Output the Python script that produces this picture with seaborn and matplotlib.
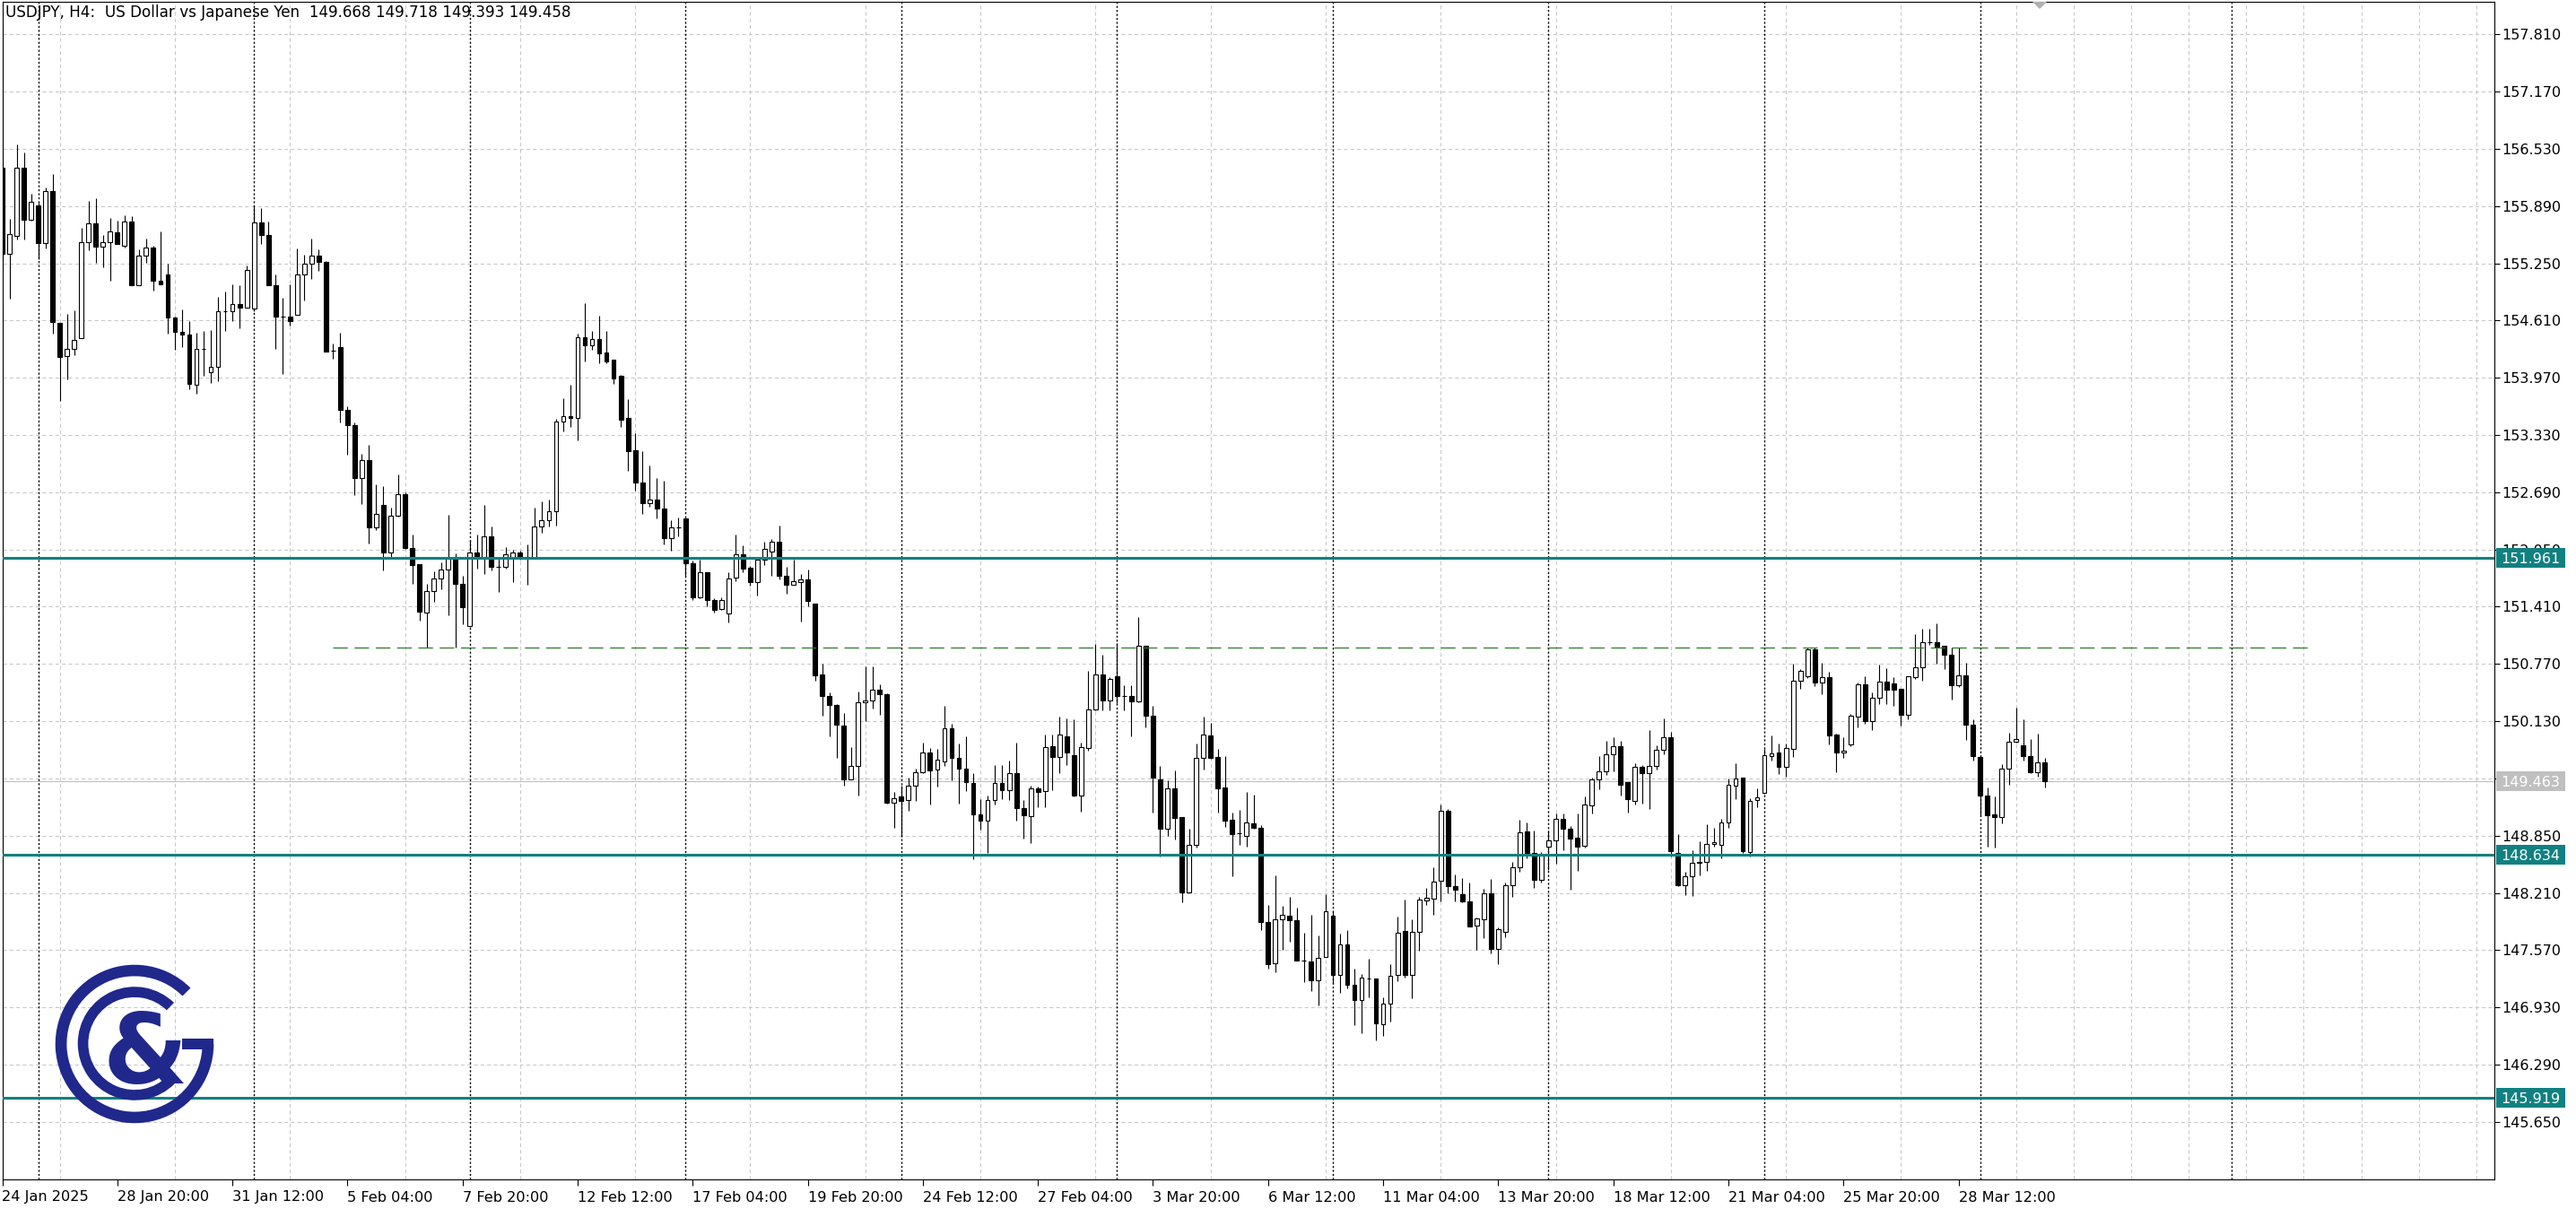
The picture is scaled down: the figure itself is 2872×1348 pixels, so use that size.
import numpy as np
import pandas as pd
import matplotlib
matplotlib.use("Agg")
import matplotlib.pyplot as plt
import seaborn as sns
from matplotlib.patches import Wedge, Rectangle, Polygon
from matplotlib.transforms import IdentityTransform

# ---------------- data (USDJPY H4) ----------------
opens = [156.323, 155.353, 155.560, 156.316, 155.741, 155.901, 155.480, 156.055, 154.583, 154.209,
         154.289, 154.416, 155.483, 155.697, 155.440, 155.483, 155.597, 155.446, 155.714, 155.008,
         155.333, 155.423, 155.052, 155.125, 154.640, 154.483, 154.450, 153.891, 154.289, 154.028,
         154.088, 154.711, 154.711, 154.791, 154.757, 154.741, 155.704, 155.570, 155.002, 154.650,
         154.650, 154.676, 155.121, 155.251, 155.338, 155.268, 154.275, 154.315, 153.613, 153.439,
         152.844, 153.045, 152.293, 152.553, 152.018, 152.426, 152.664, 152.069, 151.885, 151.343,
         151.584, 151.724, 151.825, 151.951, 151.661, 151.189, 152.012, 151.968, 152.192, 151.858,
         151.858, 151.945, 152.018, 151.965, 151.942, 152.303, 152.376, 152.480, 153.483, 153.540,
         153.516, 154.423, 154.338, 154.408, 154.252, 154.171, 153.988, 153.521, 153.160, 152.802,
         152.569, 152.608, 152.510, 152.172, 152.297, 152.394, 151.900, 151.519, 151.799, 151.480,
         151.383, 151.336, 151.733, 151.997, 151.842, 151.686, 151.935, 152.024, 152.133, 151.752,
         151.655, 151.686, 151.713, 151.449, 150.652, 150.411, 150.314, 150.080, 149.478, 149.633,
         150.341, 150.360, 150.477, 150.433, 149.217, 149.287, 149.253, 149.413, 149.563, 149.777,
         149.593, 149.680, 150.053, 149.720, 149.603, 149.437, 149.087, 149.020, 149.247, 149.443,
         149.360, 149.547, 149.153, 149.063, 149.377, 149.353, 149.853, 149.727, 149.963, 149.753,
         149.303, 149.830, 150.263, 150.653, 150.363, 150.630, 150.413, 150.413, 150.353, 150.970,
         150.187, 149.482, 148.930, 149.382, 149.054, 148.211, 148.747, 149.723, 149.974, 149.727,
         149.392, 149.031, 148.874, 148.847, 148.987, 148.940, 147.884, 147.419, 147.917, 147.954,
         147.904, 147.449, 147.442, 147.232, 147.492, 147.954, 147.292, 147.633, 147.181, 147.014,
         147.252, 147.252, 146.740, 146.967, 147.292, 147.783, 147.292, 147.777, 148.128, 148.148,
         148.345, 149.132, 148.286, 148.196, 148.118, 147.843, 147.910, 148.206, 147.582, 147.776,
         148.296, 148.498, 148.894, 148.655, 148.353, 148.726, 148.800, 149.041, 148.927, 148.823,
         148.732, 149.186, 149.477, 149.565, 149.756, 149.847, 149.444, 149.243, 149.615, 149.545,
         149.632, 149.806, 149.947, 148.655, 148.296, 148.397, 148.555, 148.555, 148.756, 148.749,
         148.994, 149.413, 149.497, 148.670, 149.247, 149.330, 149.743, 149.777, 149.620, 149.820,
         150.580, 150.630, 150.937, 150.560, 150.627, 149.977, 149.780, 149.870, 150.177, 150.547,
         150.130, 150.393, 150.577, 150.553, 150.487, 150.203, 150.627, 150.737, 151.013, 151.013,
         150.970, 150.877, 150.537, 150.643, 150.093, 149.727, 149.303, 149.087, 149.053, 149.603,
         149.903, 149.863, 149.737, 149.560, 149.668]
highs = [156.420, 155.744, 156.580, 156.490, 156.028, 155.931, 156.099, 156.249, 154.583, 154.684,
         154.724, 155.647, 155.945, 155.978, 155.567, 155.754, 155.731, 155.788, 155.778, 155.410,
         155.527, 155.443, 155.610, 155.246, 154.650, 154.731, 154.604, 154.476, 154.493, 154.503,
         154.874, 154.935, 155.018, 155.008, 155.229, 155.888, 155.864, 155.721, 155.125, 154.861,
         155.012, 155.412, 155.345, 155.529, 155.402, 155.275, 154.352, 154.469, 153.647, 153.466,
         153.122, 153.222, 152.777, 152.761, 152.520, 152.894, 152.687, 152.219, 151.885, 151.661,
         151.801, 151.911, 152.435, 152.002, 151.751, 152.152, 152.219, 152.547, 152.303, 151.968,
         152.079, 152.045, 152.035, 152.109, 152.520, 152.593, 152.610, 153.506, 153.740, 153.891,
         154.466, 154.804, 154.493, 154.661, 154.493, 154.171, 154.007, 153.727, 153.354, 153.152,
         152.994, 152.849, 152.822, 152.374, 152.406, 152.400, 151.927, 151.939, 151.799, 151.500,
         151.519, 151.791, 152.219, 152.094, 151.869, 151.947, 152.133, 152.168, 152.316, 151.857,
         151.939, 151.772, 151.830, 151.449, 150.769, 150.450, 150.325, 150.224, 149.836, 150.458,
         150.741, 150.747, 150.547, 150.440, 149.337, 149.410, 149.503, 149.603, 149.887, 149.827,
         149.820, 150.303, 150.103, 149.880, 149.963, 149.553, 149.260, 149.303, 149.637, 149.637,
         149.693, 149.893, 149.247, 149.413, 149.403, 149.977, 149.980, 150.177, 150.163, 150.153,
         149.887, 150.693, 150.997, 150.870, 150.620, 151.003, 150.527, 150.533, 151.290, 150.970,
         150.303, 149.633, 149.466, 149.583, 149.054, 148.924, 149.884, 150.185, 150.108, 149.824,
         149.743, 149.108, 149.138, 149.342, 149.308, 148.971, 148.078, 148.402, 148.061, 148.168,
         148.044, 147.760, 147.967, 147.737, 148.195, 148.000, 147.753, 147.793, 147.359, 147.302,
         147.469, 147.252, 147.041, 147.409, 147.944, 148.135, 147.917, 148.161, 148.268, 148.496,
         149.198, 149.152, 148.420, 148.380, 148.330, 147.937, 148.256, 148.363, 147.827, 148.330,
         148.558, 149.024, 149.001, 148.907, 148.665, 148.910, 149.102, 149.102, 148.957, 149.102,
         149.293, 149.494, 149.739, 149.907, 149.947, 149.914, 149.444, 149.662, 149.639, 150.031,
         149.857, 150.159, 150.008, 148.867, 148.447, 148.689, 148.783, 148.974, 148.934, 149.035,
         149.488, 149.663, 149.497, 149.270, 149.377, 149.820, 149.970, 149.880, 149.880, 150.770,
         150.713, 150.953, 150.953, 150.780, 150.680, 149.987, 149.947, 150.213, 150.560, 150.630,
         150.447, 150.760, 150.727, 150.620, 150.487, 150.637, 151.103, 151.160, 151.160, 151.220,
         150.970, 150.953, 150.953, 150.787, 150.147, 149.727, 149.387, 149.293, 149.647, 149.997,
         150.280, 150.147, 149.927, 149.993, 149.718]
lows = [155.300, 154.851, 155.520, 155.520, 155.731, 155.293, 155.420, 154.466, 153.714, 153.955,
        154.222, 154.416, 155.400, 155.252, 155.206, 155.052, 155.470, 155.430, 155.008, 155.008,
        155.259, 154.941, 155.012, 154.460, 154.282, 154.316, 153.841, 153.788, 153.995, 153.915,
        153.935, 154.490, 154.604, 154.527, 154.757, 154.717, 155.470, 155.002, 154.289, 154.008,
        154.550, 154.676, 154.833, 155.078, 155.161, 154.265, 154.185, 153.473, 153.105, 152.654,
        152.563, 152.119, 152.263, 151.818, 151.945, 152.419, 152.059, 151.667, 151.256, 150.949,
        151.460, 151.601, 151.316, 150.949, 151.216, 151.183, 151.834, 151.778, 151.818, 151.577,
        151.834, 151.684, 151.935, 151.657, 151.942, 152.236, 152.303, 152.319, 153.372, 153.423,
        153.272, 154.151, 154.287, 154.132, 154.136, 153.899, 153.424, 152.927, 152.713, 152.444,
        152.530, 152.394, 152.102, 152.032, 152.199, 151.752, 151.480, 151.507, 151.410, 151.344,
        151.371, 151.239, 151.694, 151.799, 151.643, 151.538, 151.877, 151.752, 151.713, 151.558,
        151.655, 151.247, 151.410, 150.586, 150.189, 149.964, 149.719, 149.412, 149.478, 149.295,
        150.131, 150.270, 150.203, 149.210, 148.937, 148.837, 149.127, 149.243, 149.553, 149.197,
        149.403, 149.627, 149.470, 149.213, 149.353, 148.587, 148.920, 148.653, 149.193, 149.260,
        149.247, 149.020, 148.820, 148.763, 149.170, 149.170, 149.360, 149.553, 149.643, 149.287,
        149.113, 149.803, 150.253, 150.247, 150.253, 150.327, 150.253, 149.960, 150.343, 150.060,
        149.103, 148.613, 148.847, 148.807, 148.104, 148.211, 148.713, 149.589, 149.710, 149.108,
        148.947, 148.392, 148.747, 148.730, 148.930, 147.793, 147.359, 147.319, 147.576, 147.660,
        147.452, 147.208, 147.114, 146.947, 147.492, 147.191, 147.091, 147.141, 146.733, 146.640,
        147.041, 146.556, 146.606, 146.773, 147.225, 147.258, 147.031, 147.566, 148.078, 147.961,
        148.111, 148.206, 148.112, 148.105, 147.837, 147.575, 147.699, 147.535, 147.414, 147.709,
        148.162, 148.441, 148.598, 148.263, 148.330, 148.464, 148.541, 148.689, 148.246, 148.454,
        148.716, 149.102, 149.370, 149.528, 149.571, 149.303, 149.112, 149.202, 149.209, 149.152,
        149.588, 149.756, 148.615, 148.286, 148.189, 148.179, 148.404, 148.454, 148.722, 148.598,
        148.941, 149.263, 148.653, 148.620, 149.170, 149.320, 149.693, 149.537, 149.510, 149.727,
        150.487, 150.610, 150.520, 150.427, 149.870, 149.560, 149.720, 149.853, 150.060, 150.103,
        150.027, 150.320, 150.320, 150.297, 150.077, 150.153, 150.603, 150.587, 150.980, 150.770,
        150.713, 150.370, 150.510, 149.920, 149.687, 149.070, 148.730, 148.720, 148.987, 149.420,
        149.887, 149.693, 149.553, 149.510, 149.393]
closes = [155.353, 155.580, 156.316, 155.741, 155.941, 155.480, 156.055, 154.590, 154.199, 154.289,
          154.390, 155.483, 155.697, 155.440, 155.483, 155.604, 155.470, 155.714, 155.008, 155.333,
          155.423, 155.052, 155.018, 154.640, 154.480, 154.450, 153.898, 154.289, 154.289, 154.088,
          154.711, 154.711, 154.791, 154.757, 155.172, 155.704, 155.570, 155.002, 154.650, 154.655,
          154.600, 155.121, 155.251, 155.338, 155.268, 154.265, 154.275, 153.613, 153.439, 152.844,
          153.045, 152.293, 152.446, 152.018, 152.426, 152.664, 152.069, 151.875, 151.350, 151.584,
          151.724, 151.825, 151.951, 151.661, 151.400, 152.012, 151.968, 152.192, 151.858, 151.858,
          151.992, 152.018, 151.968, 151.942, 152.303, 152.376, 152.476, 153.483, 153.540, 153.516,
          154.419, 154.338, 154.408, 154.241, 154.151, 153.965, 153.502, 153.152, 152.794, 152.569,
          152.608, 152.503, 152.180, 152.297, 152.297, 151.900, 151.519, 151.799, 151.480, 151.375,
          151.488, 151.725, 151.997, 151.838, 151.686, 151.935, 152.052, 152.133, 151.752, 151.655,
          151.694, 151.713, 151.472, 150.644, 150.411, 150.314, 150.092, 149.478, 149.633, 150.341,
          150.364, 150.477, 150.433, 149.217, 149.273, 149.243, 149.413, 149.563, 149.777, 149.580,
          149.703, 150.053, 149.720, 149.603, 149.447, 149.087, 149.020, 149.247, 149.443, 149.360,
          149.547, 149.153, 149.080, 149.377, 149.343, 149.843, 149.730, 149.977, 149.780, 149.297,
          149.837, 150.263, 150.653, 150.363, 150.603, 150.410, 150.413, 150.353, 150.970, 150.187,
          149.503, 148.930, 149.382, 149.048, 148.211, 148.747, 149.723, 149.984, 149.716, 149.375,
          149.014, 148.864, 148.874, 148.997, 148.937, 147.884, 147.409, 147.917, 147.967, 147.904,
          147.452, 147.449, 147.232, 147.482, 148.004, 147.292, 147.633, 147.181, 147.014, 147.258,
          147.252, 146.750, 146.967, 147.285, 147.767, 147.292, 147.777, 148.138, 148.155, 148.335,
          149.131, 148.286, 148.246, 148.112, 147.837, 147.924, 148.206, 147.582, 147.803, 148.296,
          148.498, 148.884, 148.649, 148.353, 148.625, 148.800, 149.041, 148.927, 148.816, 148.726,
          149.202, 149.477, 149.565, 149.756, 149.847, 149.420, 149.259, 149.615, 149.545, 149.632,
          149.806, 149.947, 148.676, 148.296, 148.397, 148.548, 148.550, 148.759, 148.776, 149.001,
          149.420, 149.487, 148.680, 149.243, 149.277, 149.747, 149.770, 149.620, 149.830, 150.587,
          150.693, 150.937, 150.560, 150.627, 149.970, 149.780, 149.803, 150.187, 150.547, 150.127,
          150.393, 150.577, 150.480, 150.480, 150.203, 150.637, 150.737, 151.013, 151.013, 150.967,
          150.870, 150.527, 150.643, 150.093, 149.737, 149.297, 149.080, 149.053, 149.603, 149.903,
          149.927, 149.743, 149.560, 149.670, 149.458]

time_labels = ["24 Jan 2025", "28 Jan 20:00", "31 Jan 12:00", "5 Feb 04:00", "7 Feb 20:00",
               "12 Feb 12:00", "17 Feb 04:00", "19 Feb 20:00", "24 Feb 12:00", "27 Feb 04:00",
               "3 Mar 20:00", "6 Mar 12:00", "11 Mar 04:00", "13 Mar 20:00", "18 Mar 12:00",
               "21 Mar 04:00", "25 Mar 20:00", "28 Mar 12:00"]
label_every = 16          # bars between time labels
grid_every = 8            # bars between vertical grid lines
week_separators = [5, 35, 65, 95, 125, 155, 185, 215, 245, 275, 310]
price_ticks = [157.810, 157.170, 156.530, 155.890, 155.250, 154.610, 153.970, 153.330, 152.690,
               152.050, 151.410, 150.770, 150.130, 149.490, 148.850, 148.210, 147.570, 146.930,
               146.290, 145.650]
level_lines = [151.961, 148.634, 145.919]
current_price = 149.463
dashed_level = 150.950
dashed_span = [45.9, 320.7]
title_text = "USDJPY, H4:  US Dollar vs Japanese Yen  149.668 149.718 149.393 149.458"

df = pd.DataFrame({"open": opens, "high": highs, "low": lows, "close": closes})
df["bar"] = np.arange(len(df))
df["bull"] = df["close"] >= df["open"]

# ---------------- styling ----------------
sns.set_theme(style="white")
plt.rcParams["font.family"] = ["DejaVu Sans"]

W, H = 2872, 1348
fig = plt.figure(figsize=(W / 100, H / 100), dpi=100)
fig.patch.set_facecolor("white")
L_px, R_px, T_px, B_px = 2.5, 2781.0, 1.5, 1315.0
ax = fig.add_axes([L_px / W, 1 - B_px / H, (R_px - L_px) / W, (B_px - T_px) / H])
ax.set_facecolor("white")

bar_px = 8.02
x0_px = 2.0
ax.set_xlim((L_px - x0_px) / bar_px, (R_px - x0_px) / bar_px)
# price scale: 99.7 px per yen, 156.53 at y=166 px
ppy = 99.7
ax.set_ylim(156.53 - (B_px - 166) / ppy, 156.53 + (166 - T_px) / ppy)

teal = "#118080"
grid_c = "#c8c8c8"

# grid
n_last = int((R_px - x0_px) / bar_px)
ax.set_xticks(np.arange(0, n_last + 1, grid_every), minor=True)
ax.set_xticks(np.arange(len(time_labels)) * label_every)
ax.set_xticklabels(time_labels)
ax.set_yticks(price_ticks)
ax.set_yticklabels([f"{p:.3f}" for p in price_ticks])
ax.grid(which="minor", axis="x", color=grid_c, linestyle=(0, (4, 3)), linewidth=0.75, zorder=0)
ax.grid(which="major", axis="y", color=grid_c, linestyle=(0, (4, 3)), linewidth=0.75, zorder=0)
ax.set_axisbelow(True)

for s in week_separators:
    ax.axvline(s, color="black", linestyle=(0, (1.6, 1.6)), linewidth=1.0, zorder=1)

# current price line (behind candles)
ax.axhline(current_price, color="#c0c0c0", linewidth=0.8, zorder=1.5)

# candles
sns.despine(ax=ax, top=False, right=False, left=False, bottom=False)
ax.vlines(df["bar"], df["low"], df["high"], color="black", linewidth=0.8, zorder=3)
bull = df[df["bull"]]
bear = df[~df["bull"]]
ax.bar(bull["bar"], (bull["close"] - bull["open"]), bottom=bull["open"], width=0.6,
       color="white", edgecolor="black", linewidth=0.8, zorder=4)
ax.bar(bear["bar"], (bear["close"] - bear["open"]), bottom=bear["open"], width=0.6,
       color="black", edgecolor="black", linewidth=0.8, zorder=4)

# horizontal levels (foreground)
for lv in level_lines:
    ax.axhline(lv, color=teal, linewidth=2.2, zorder=6)
ax.hlines(dashed_level, dashed_span[0], dashed_span[1], color="#2b7a2b",
          linewidth=0.9, linestyle=(0, (13, 6)), zorder=6)

# axes frame & ticks
for sp in ax.spines.values():
    sp.set_color("black")
    sp.set_linewidth(0.8)
    sp.set_visible(True)
ax.yaxis.tick_right()
ax.tick_params(axis="y", which="major", direction="out", length=4, width=0.8, pad=2,
               labelsize=11.5, colors="black", right=True, left=False)
ax.tick_params(axis="x", which="major", direction="out", length=5, width=0.8, pad=4,
               labelsize=11.6, colors="black", bottom=True)
ax.tick_params(axis="x", which="minor", length=0)
for lab in ax.get_xticklabels():
    lab.set_horizontalalignment("left")

# price boxes on the right axis
def price_box(p, face):
    y_disp = ax.transData.transform((0, p))[1]
    fig.add_artist(Rectangle((2783, y_disp - 11), 77, 22, transform=IdentityTransform(),
                             facecolor=face, edgecolor="none", zorder=20))
    fig.text((2783 + 38.5) / W, y_disp / H, f"{p:.3f}", ha="center", va="center_baseline",
             color="white", fontsize=11.5, zorder=21)

for lv in level_lines:
    price_box(lv, teal)
price_box(current_price, "#c0c0c0")

# title
fig.text(6 / W, 1 - 14 / H, title_text, ha="left", va="center", fontsize=12.1, color="black",
         zorder=22)

# chart-shift marker
fig.add_artist(Polygon([[2266, H - 2], [2282, H - 2], [2274, H - 10]], closed=True,
                       transform=IdentityTransform(), facecolor="#b0b0b0", edgecolor="none",
                       zorder=22))

# logo
navy = "#20288c"
cx, cy = 150, H - 1164
fig.add_artist(Wedge((cx, cy), 88.3, 45, 360, width=12.7, transform=IdentityTransform(),
                     facecolor=navy, edgecolor="none", zorder=23))
fig.add_artist(Rectangle((203, cy - 6), 35, 12, transform=IdentityTransform(),
                         facecolor=navy, edgecolor="none", zorder=23))
fig.add_artist(Wedge((cx, cy + 0.5), 63.3, 46, 315, width=11.7, transform=IdentityTransform(),
                     facecolor=navy, edgecolor="none", zorder=23))
fig.text(162 / W, 1 - 1207 / H, "&", ha="center", va="baseline", fontsize=78,
         fontweight="bold", color=navy, zorder=24)

fig.savefig("out.png", dpi=100, facecolor="white")
